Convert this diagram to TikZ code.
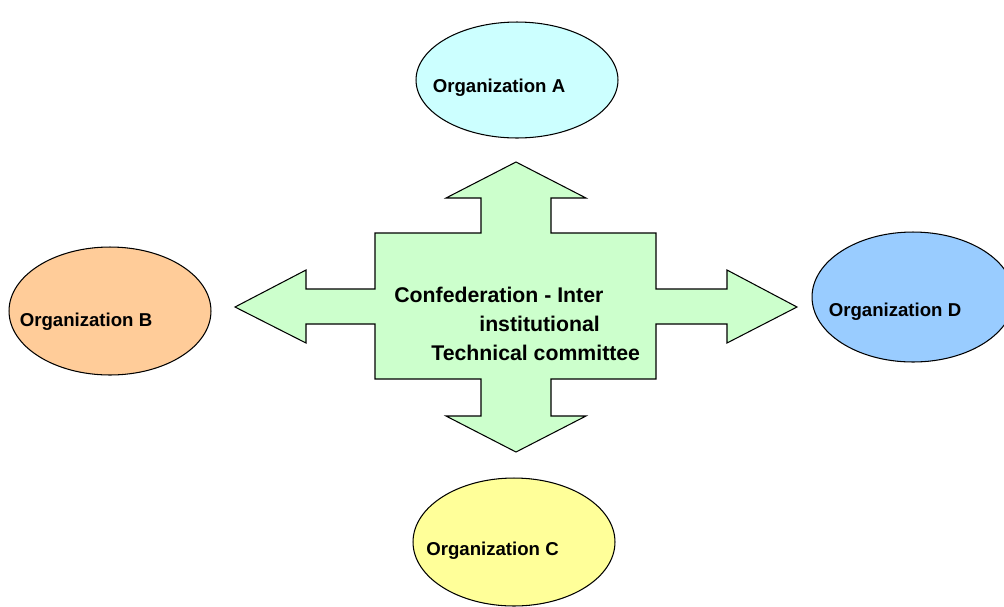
\documentclass[tikz,border=0pt]{standalone}
\usepackage{fontspec}
\setmainfont{Liberation Sans}
\usetikzlibrary{shapes.geometric,positioning}
\definecolor{orgA}{HTML}{CCFFFF}
\definecolor{orgB}{HTML}{FFCC99}
\definecolor{orgC}{HTML}{FFFF99}
\definecolor{orgD}{HTML}{99CCFF}
\definecolor{hubgreen}{HTML}{CCFFCC}
\begin{document}
\begin{tikzpicture}[
    x=0.02cm, y=-0.02cm,
    org/.style={ellipse, draw=black, line width=0.6pt, inner sep=0pt,
                minimum width=4.04cm, minimum height=2.56cm},
    orgtext/.style={font=\fontsize{10.6}{12}\selectfont\bfseries},
    hub/.style={draw=black, line width=0.6pt, fill=hubgreen, line join=miter}
]
\useasboundingbox (0,0) rectangle (1004,606);

% organisations
\node[org, fill=orgA, minimum height=2.32cm,
      label={[orgtext, xshift=-0.36cm, yshift=-0.16cm]center:Organization A}] (orgA) at (517,80) {};
\node[org, fill=orgB,
      label={[orgtext, xshift=-0.48cm, yshift=-0.22cm]center:Organization B}] (orgB) at (110,311) {};
\node[org, fill=orgC,
      label={[orgtext, xshift=-0.43cm, yshift=-0.18cm]center:Organization C}] (orgC) at (514,542) {};
\node[org, fill=orgD, minimum height=2.6cm,
      label={[orgtext, xshift=-0.36cm, yshift=-0.29cm]center:Organization D}] (orgD) at (913,297) {};

% four-way arrow
\draw[hub] (375,233) -- (481,233) -- (481,198) -- (446,198) -- (516,162)
    -- (586,198) -- (551,198) -- (551,233) -- (656,233) -- (656,289)
    -- (727,289) -- (727,270) -- (797,307) -- (727,343) -- (727,324)
    -- (656,324) -- (656,379) -- (551,379) -- (551,416) -- (586,416)
    -- (516,452) -- (446,416) -- (481,416) -- (481,379) -- (375,379)
    -- (375,324) -- (306,324) -- (306,343) -- (235,307) -- (306,270)
    -- (306,289) -- (375,289) -- cycle;

\node[anchor=west, inner sep=0pt, align=left,
      font=\fontsize{12.1}{16.7}\selectfont\bfseries] (committee) at (394,324)
    {Confederation - Inter\\
     \hspace*{1.7cm}institutional\\
     \hspace*{0.74cm}Technical committee};
\end{tikzpicture}
\end{document}
